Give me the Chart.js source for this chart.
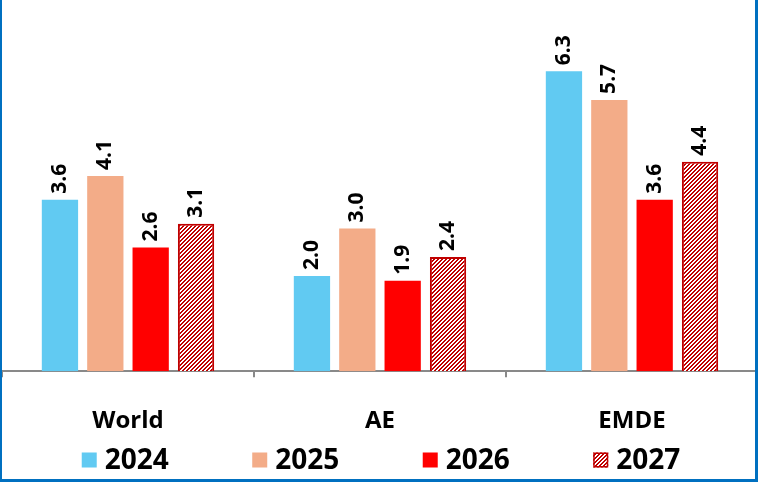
<!DOCTYPE html>
<html>
<head>
<meta charset="utf-8">
<script src="https://cdn.jsdelivr.net/npm/chart.js@4"></script>
<style>
    html, body { margin: 0; padding: 0; background: #fff; }
    #wrap { position: relative; width: 758px; height: 482px; }
    #frame {
        position: absolute; left: 0; top: 0; right: 0; bottom: 0;
        border-left: 2px solid #0070C0;
        border-right: 3px solid #0070C0;
        border-bottom: 3px solid #0070C0;
        pointer-events: none;
    }
</style>
</head>
<body>
<div id="wrap">
    <canvas id="growthChart" width="758" height="482"></canvas>
    <div id="frame"></div>
</div>
<script>
// ------------------------------------------------------------------
//  Data
// ------------------------------------------------------------------
const regions = ['World', 'AE', 'EMDE'];
const years = ['2024', '2025', '2026', '2027'];
const growth2024 = [3.6, 2.0, 6.3];
const growth2025 = [4.1, 3.0, 5.7];
const growth2026 = [2.6, 1.9, 3.6];
const growth2027 = [3.1, 2.4, 4.4];

const FONT = "'Open Sans', 'DejaVu Sans', sans-serif";
Chart.defaults.font.family = FONT;
Chart.defaults.color = '#000';

// hatch pattern for the last series ("/" stripes)
function makeHatch() {
    const c = document.createElement('canvas');
    c.width = 4; c.height = 4;
    const g = c.getContext('2d');
    g.fillStyle = '#fff';
    g.fillRect(0, 0, 4, 4);
    g.fillStyle = '#C00000';
    for (let x = 0; x < 4; x++) {
        for (let y = 0; y < 4; y++) {
            if ((x + y) % 4 < 2) g.fillRect(x, y, 1, 1);
        }
    }
    return g.createPattern(c, 'repeat');
}
const hatch = makeHatch();

// ------------------------------------------------------------------
//  Plugins: rotated value labels + custom legend row
// ------------------------------------------------------------------
const valueLabels = {
    id: 'valueLabels',
    afterDatasetsDraw(chart) {
        const ctx = chart.ctx;
        ctx.save();
        ctx.font = 'bold 21px ' + FONT;
        ctx.fillStyle = '#000';
        ctx.textAlign = 'left';
        ctx.textBaseline = 'middle';
        chart.data.datasets.forEach((ds, i) => {
            chart.getDatasetMeta(i).data.forEach((bar, j) => {
                ctx.save();
                ctx.translate(bar.x, bar.y - 6);
                ctx.rotate(-Math.PI / 2);
                ctx.fillText(ds.data[j].toFixed(1), 0, 0);
                ctx.restore();
            });
        });
        ctx.restore();
    }
};

const legendRow = {
    id: 'legendRow',
    afterDraw(chart) {
        const ctx = chart.ctx;
        const step = 170.5, box = 15, gap = 8;
        ctx.save();
        ctx.font = 'bold 28px ' + FONT;
        ctx.textBaseline = 'middle';
        ctx.textAlign = 'left';
        const itemW = box + gap + ctx.measureText(years[0]).width;
        const total = step * (years.length - 1) + itemW;
        let x = (chart.width - total) / 2 + 2;
        const cy = chart.height - 22;
        chart.data.datasets.forEach(ds => {
            ctx.fillStyle = ds.backgroundColor;
            ctx.fillRect(x, cy - box / 2, box, box);
            if (ds.borderWidth) {
                ctx.strokeStyle = ds.borderColor;
                ctx.lineWidth = 1.5;
                ctx.strokeRect(x + 0.75, cy - box / 2 + 0.75, box - 1.5, box - 1.5);
            }
            ctx.fillStyle = '#000';
            ctx.fillText(ds.label, x + box + gap, cy + 1);
            x += step;
        });
        ctx.restore();
    }
};

// ------------------------------------------------------------------
//  Chart
// ------------------------------------------------------------------
new Chart(document.getElementById('growthChart'), {
    type: 'bar',
    data: {
        labels: regions,
        datasets: [
            { label: years[0], data: growth2024, backgroundColor: '#61CAF2' },
            { label: years[1], data: growth2025, backgroundColor: '#F3AC88' },
            { label: years[2], data: growth2026, backgroundColor: '#FF0000' },
            { label: years[3], data: growth2027, backgroundColor: hatch,
              borderColor: '#C00000', borderWidth: 2 }
        ]
    },
    options: {
        responsive: false,
        animation: false,
        categoryPercentage: 0.72,
        barPercentage: 0.8,
        layout: { padding: { left: 2, right: 0, top: 38, bottom: 16 } },
        plugins: {
            legend: { display: false },
            tooltip: { enabled: false }
        },
        scales: {
            x: {
                grid: {
                    offset: true,
                    drawOnChartArea: false,
                    drawTicks: true,
                    tickLength: 6,
                    color: '#898989',
                    lineWidth: 2
                },
                border: { color: '#898989', width: 2 },
                ticks: {
                    padding: 30,
                    font: { size: 24, weight: 'bold' },
                    color: '#000'
                }
            },
            y: {
                display: false,
                min: 0,
                max: 7
            }
        }
    },
    plugins: [valueLabels, legendRow]
});
</script>
</body>
</html>
